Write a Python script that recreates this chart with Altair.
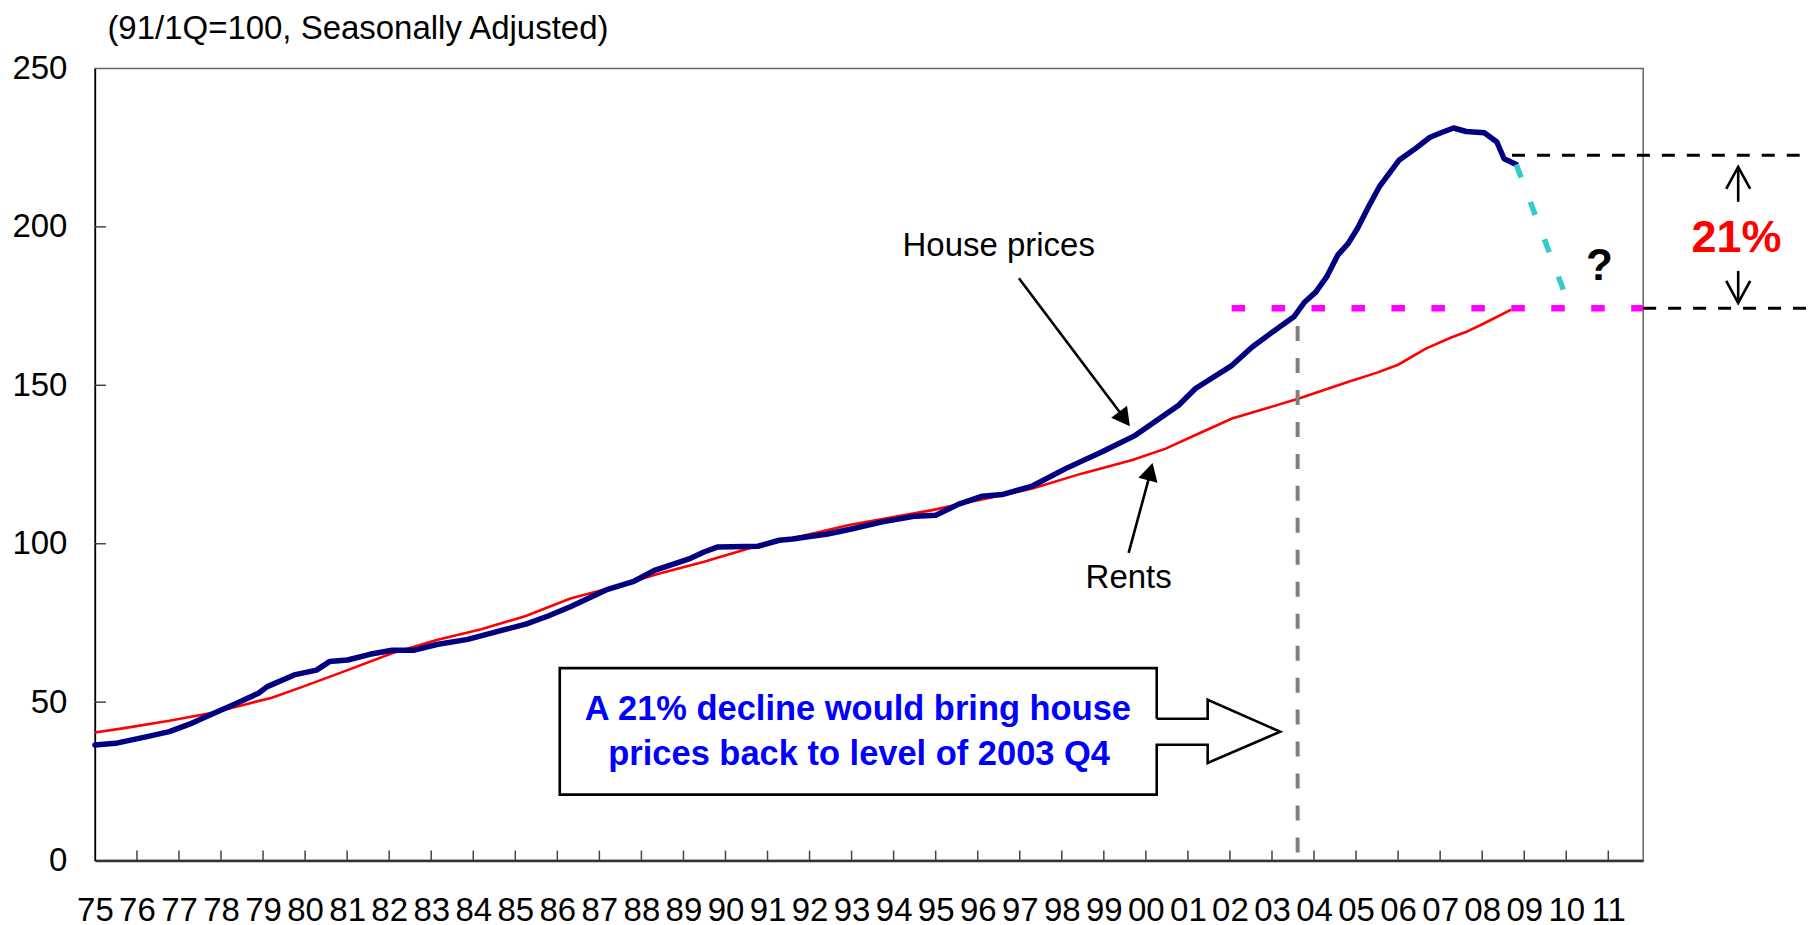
import math
import altair as alt
import pandas as pd

# ---------------- data ----------------
hp_year = [1975.00, 1975.49, 1976.24, 1976.77, 1977.30, 1977.83, 1978.36, 1978.89, 1979.10, 1979.74,
           1980.27, 1980.58, 1981.01, 1981.54, 1982.07, 1982.60, 1983.13, 1983.87, 1984.72, 1985.25,
           1985.78, 1986.31, 1987.16, 1987.80, 1988.33, 1989.17, 1989.49, 1989.82, 1990.77, 1991.28,
           1991.60, 1992.00, 1992.40, 1992.94, 1993.73, 1994.52, 1995.00, 1995.55, 1996.11, 1996.58,
           1997.30, 1998.09, 1998.96, 1999.75, 2000.78, 2001.18, 2002.05, 2002.53, 2002.96, 2003.52,
           2003.78, 2004.04, 2004.30, 2004.56, 2004.81, 2005.03, 2005.29, 2005.55, 2006.02, 2006.41,
           2006.76, 2007.02, 2007.32, 2007.62, 2008.05, 2008.35, 2008.52, 2008.81]
hp_val = [36.5, 37.0, 39.1, 40.7, 43.3, 46.5, 49.6, 52.8, 54.9, 58.6,
          60.1, 62.8, 63.3, 65.1, 66.4, 66.4, 68.2, 69.8, 72.8, 74.6,
          77.2, 80.1, 85.4, 88.0, 91.7, 95.4, 97.4, 99.0, 99.2, 101.1,
          101.5, 102.3, 103.0, 104.5, 106.9, 108.7, 109.0, 112.5, 115.0, 115.5,
          118.2, 123.7, 129.0, 134.2, 143.7, 149.0, 156.3, 162.1, 166.3, 171.6,
          176.3, 179.4, 184.2, 191.0, 194.7, 199.4, 206.2, 212.6, 221.0, 224.7,
          228.3, 229.7, 231.2, 230.1, 229.7, 226.8, 221.5, 219.7]

rent_year = [1975.00, 1975.70, 1976.77, 1977.83, 1978.67, 1979.21, 1979.95, 1981.01, 1982.07, 1983.13,
             1984.19, 1985.25, 1986.31, 1987.37, 1988.43, 1989.49, 1990.55, 1991.00, 1992.00, 1992.94,
             1994.92, 1997.30, 1998.49, 1999.68, 2000.47, 2001.26, 2002.05, 2003.64, 2004.82, 2005.50,
             2006.00, 2006.66, 2007.26, 2007.61, 2008.04, 2008.69]
rent_val = [40.4, 41.8, 44.1, 46.7, 49.6, 51.4, 54.9, 60.1, 65.4, 69.6,
            73.0, 77.2, 82.7, 86.4, 90.6, 94.3, 98.5, 100.0, 103.0, 105.9,
            110.6, 117.4, 122.2, 126.4, 130.0, 134.8, 139.5, 145.8, 151.1, 154.0,
            156.5, 161.6, 165.1, 166.8, 169.5, 173.9]

# projection of house prices (cyan dashed)
proj_year = [2008.81, 2009.93]
proj_val = [219.7, 180.2]

tick_years = list(range(1975, 2012))
tick_labels = ["75", "76", "77", "78", "79", "80", "81", "82", "83", "84", "85", "86", "87",
               "88", "89", "90", "91", "92", "93", "94", "95", "96", "97", "98", "99", "00",
               "01", "02", "03", "04", "05", "06", "07", "08", "09", "10", "11"]
y_ticks = [0, 50, 100, 150, 200, 250]

level_2003q4 = 174.3     # magenta level
peak_level = 222.6       # level of latest house price
year_2003q4 = 2003.61

# ---------------- layout ----------------
W, H = 1550, 793
XMIN, XMAX = 1975, 2011.83
YMIN, YMAX = 0, 250
PX = W / (XMAX - XMIN)
PY = H / (YMAX - YMIN)
ARROW_X = 2014.09        # position of the 21% bracket arrows
RIGHT_END = 2015.75      # right end of the black dashed guides

FONT = "Liberation Sans, Arial, sans-serif"
NARROW = "Liberation Sans Narrow, Arial Narrow, Liberation Sans, sans-serif"

label_map = "{" + ",".join("'%d':'%s'" % (y, l) for y, l in zip(tick_years, tick_labels)) + "}"

XAXIS = alt.Axis(values=tick_years, labelExpr=label_map + "[toString(datum.value)]",
                 ticks=False, grid=False, domain=True, domainColor="#333333", domainWidth=2.5,
                 labelFont=NARROW, labelFontSize=33, labelColor="black", labelBaseline="alphabetic",
                 labelPadding=60, labelAlign="center", labelOverlap=False, labelFlush=False,
                 labelBound=False, title=None)
YAXIS = alt.Axis(values=y_ticks, ticks=False, grid=False, domain=True, domainColor="black",
                 domainWidth=1.5, labelFont=FONT, labelFontSize=33, labelColor="black",
                 labelPadding=28, labelBaseline="middle", labelOverlap=False, labelFlush=False,
                 title="(91/1Q=100, Seasonally Adjusted)", titleFont=FONT, titleFontSize=33,
                 titleFontWeight="normal", titleColor="black", titleAngle=0, titleAlign="left",
                 titleBaseline="alphabetic", titleX=12, titleY=-30)
XS = alt.Scale(domain=[XMIN, XMAX], nice=False, zero=False)
YS = alt.Scale(domain=[YMIN, YMAX], nice=False, zero=False)


def xq(f):
    return alt.X(f, type="quantitative", scale=XS, axis=XAXIS)


def yq(f):
    return alt.Y(f, type="quantitative", scale=YS, axis=YAXIS)


def seg(xs, ys):
    return pd.DataFrame({"year": xs, "value": ys, "o": list(range(len(xs)))})


def line(df, **kw):
    return alt.Chart(df).mark_line(**kw).encode(x=xq("year"), y=yq("value"), order="o:Q")


rent_df = pd.DataFrame({"year": rent_year, "value": rent_val, "o": range(len(rent_year))})
hp_df = pd.DataFrame({"year": hp_year, "value": hp_val, "o": range(len(hp_year))})

rents = line(rent_df, color="#FF0000", strokeWidth=2.6)
house = line(hp_df, color="#000080", strokeWidth=5.5, strokeJoin="round", strokeCap="round")
proj = line(seg(proj_year, proj_val), color="#33CCCC", strokeWidth=5.5, strokeDash=[14, 26])

gray = line(seg([year_2003q4, year_2003q4], [168.7, 0]), color="#808080", strokeWidth=4,
            strokeDash=[15, 17])
magenta = line(seg([2002.04, XMAX], [level_2003q4, level_2003q4]), color="#FF00FF",
               strokeWidth=6.5, strokeDash=[13.5, 26.5])
black_top = line(seg([2008.71, RIGHT_END], [peak_level, peak_level]), color="black",
                 strokeWidth=3, strokeDash=[13, 12])
black_bot = line(seg([XMAX, RIGHT_END], [level_2003q4, level_2003q4]), color="black",
                 strokeWidth=3, strokeDash=[13, 12])

# inward ticks
xt_df = pd.DataFrame({"year": tick_years[1:]})
xticks = alt.Chart(xt_df).mark_rule(color="#444444", strokeWidth=1.5).encode(
    x=xq("year"), y=alt.value(H - 10), y2=alt.value(H))
yt_df = pd.DataFrame({"value": y_ticks[1:-1]})
yticks = alt.Chart(yt_df).mark_rule(color="#444444", strokeWidth=1.5).encode(
    y=yq("value"), x=alt.value(0), x2=alt.value(11))

# arrows
shafts_df = pd.DataFrame({
    "year": [1996.98, 1999.59, ARROW_X, ARROW_X],
    "value": [183.8, 97.1, 207.9, 186.1],
    "year2": [1999.55, 2000.14, ARROW_X, ARROW_X],
    "value2": [138.5, 124.0, 218.9, 176.0],
})
shafts = alt.Chart(shafts_df).mark_rule(color="black", strokeWidth=2.6).encode(
    x=xq("year"), y=yq("value"), x2="year2:Q", y2="value2:Q")


def ang(x0, y0, x1, y1):
    dx = (x1 - x0) * PX
    dy = -(y1 - y0) * PY
    return math.degrees(math.atan2(dx, -dy)) % 360


head_path = "M0,0L-0.55,1L0.55,1Z"
chev_path = "M-0.6,1.1L0,0L0.6,1.1"
heads = []
for (x0, y0, x1, y1) in [(1996.98, 183.8, 1999.62, 137.1), (1999.59, 97.1, 2000.16, 125.5)]:
    heads.append(alt.Chart(pd.DataFrame({"year": [x1], "value": [y1]})).mark_point(
        shape=head_path, filled=True, color="black", opacity=1, size=1296,
        angle=ang(x0, y0, x1, y1)).encode(x=xq("year"), y=yq("value")))
for (x1, y1, a) in [(ARROW_X, 218.9, 0), (ARROW_X, 176.0, 180)]:
    heads.append(alt.Chart(pd.DataFrame({"year": [x1], "value": [y1]})).mark_point(
        shape=chev_path, filled=False, color="black", opacity=1, size=1600, strokeWidth=2.6,
        angle=a).encode(x=xq("year"), y=yq("value")))

# callout box
box_fill = alt.Chart(pd.DataFrame({"year": [1986.058], "value": [60.75], "year2": [2000.258],
                                   "value2": [20.81]})).mark_rect(color="white").encode(
    x=xq("year"), y=yq("value"), x2="year2:Q", y2="value2:Q")
bx = [2000.258, 2000.258, 1986.058, 1986.058, 2000.258, 2000.258, 2001.470, 2001.470, 2003.195,
      2001.470, 2001.470, 2000.258]
by = [44.77, 60.75, 60.75, 20.81, 20.81, 36.57, 36.57, 30.80, 40.67, 50.76, 44.77, 44.77]
box_line = line(seg(bx, by), color="black", strokeWidth=2.6, strokeJoin="miter")

box_text = alt.Chart(pd.DataFrame({
    "year": [1993.15, 1993.18], "value": [44.23, 30.05],
    "t": ["A 21% decline would bring house", "prices back to level of 2003 Q4"]})).mark_text(
    font=FONT, fontSize=34.5, fontWeight="bold", color="#0000FF", align="center",
    baseline="alphabetic").encode(x=xq("year"), y=yq("value"), text="t:N")

labels = alt.Chart(pd.DataFrame({
    "year": [1996.50, 1999.59], "value": [190.7, 86.1], "t": ["House prices", "Rents"]})).mark_text(
    font=FONT, fontSize=33, color="black", align="center", baseline="alphabetic").encode(
    x=xq("year"), y=yq("value"), text="t:N")
q_text = alt.Chart(pd.DataFrame({"year": [2010.79], "value": [183.2], "t": ["?"]})).mark_text(
    font=FONT, fontSize=44, fontWeight="bold", color="black", align="center",
    baseline="alphabetic").encode(x=xq("year"), y=yq("value"), text="t:N")
pct_text = alt.Chart(pd.DataFrame({"year": [2014.05], "value": [192.0], "t": ["21%"]})).mark_text(
    font=FONT, fontSize=45, fontWeight="bold", color="#FF0000", align="center",
    baseline="alphabetic").encode(x=xq("year"), y=yq("value"), text="t:N")

chart = alt.layer(
    xticks, yticks, rents, house, gray, proj, magenta, black_top, black_bot,
    box_fill, box_line, box_text, labels, shafts, *heads, q_text, pct_text
).properties(
    width=W, height=H,
    padding={"left": 87, "top": 60, "right": 167, "bottom": 76},
    autosize=alt.AutoSizeParams(type="none"),
    background="white",
).configure_view(stroke="#666666", strokeWidth=1.5)

chart.save("out.html", embed_options={"renderer": "svg", "actions": False})
